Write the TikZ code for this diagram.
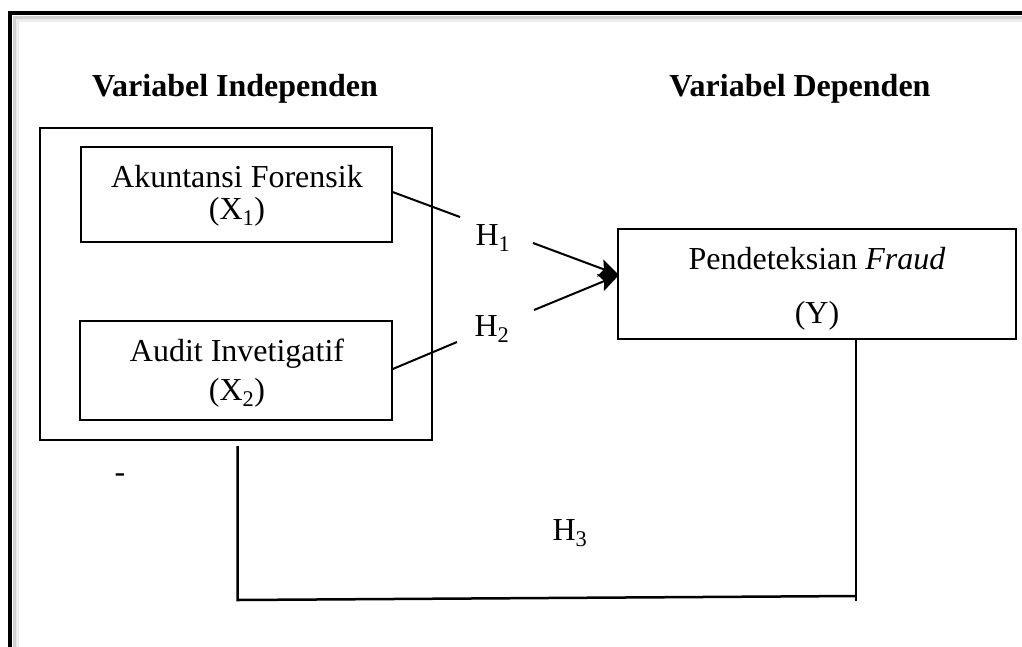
\documentclass[tikz,border=0pt]{standalone}
\usepackage{fontspec}
\setmainfont{Liberation Serif}
\usetikzlibrary{arrows.meta}
\begin{document}
\begin{tikzpicture}[x=1pt,y=-1pt,
  txt/.style={anchor=base,inner sep=0pt,font=\fontsize{32}{38}\selectfont},
  head/.style={txt,font=\fontsize{32}{38}\selectfont\bfseries},
  boxthin/.style={draw,line width=1.2pt,inner sep=0pt},
  conn/.style={line width=2pt},
  arr/.style={conn,-{Stealth[length=20pt,width=18pt,inset=4pt]}}]
\useasboundingbox (0,0) rectangle (1022,646);
% outer frame with shadow
\draw[line width=5pt,gray!15] (16,650) -- (16,19) -- (1030,19);
\draw[line width=3pt,gray!35] (14,650) -- (14,17) -- (1030,17);
\draw[line width=4.5pt] (10,650) -- (10,13) -- (1030,13);
% headings
\node[head] (hi) at (235,96) {Variabel Independen};
\node[head] (hd) at (800,96) {Variabel Dependen};
% group box
\node[draw,line width=2pt,minimum width=392pt,minimum height=312pt,inner sep=0pt] (grp) at (236,284) {};
% X1
\node[boxthin,minimum width=311pt,minimum height=95pt] (x1) at (236.5,194.5) {};
\node[txt] (x1a) at (237,187) {Akuntansi Forensik};
\node[txt] (x1b) at (237,219) {(X\textsubscript{1})};
% X2
\node[boxthin,line width=1.6pt,minimum width=312pt,minimum height=99pt] (x2) at (236,370.5) {};
\node[txt] (x2a) at (237,361) {Audit Invetigatif};
\node[txt] (x2b) at (237,400) {(X\textsubscript{2})};
% Y
\node[boxthin,line width=1.6pt,minimum width=398pt,minimum height=110pt] (y) at (817,284) {};
\node[txt] (ya) at (817,269) {Pendeteksian \textit{Fraud}};
\node[txt] (yb) at (817,323) {(Y)};
% hypotheses
\node[txt] (h1) at (493,245) {H\textsubscript{1}};
\node[txt] (h2) at (492,336) {H\textsubscript{2}};
\node[txt] (h3) at (570,540) {H\textsubscript{3}};
\node[txt] (dash) at (120,482) {-};
% connectors
\coordinate (p1) at (460,217);
\coordinate (p2) at (457,342);
\coordinate (q1) at (533,243);
\coordinate (q2) at (534,310);
\coordinate (yin) at (619,275);
\draw[conn] (x1.east |- 0,192) -- (p1);
\draw[conn] (x2.east |- 0,369) -- (p2);
\draw[arr] (q1) -- (yin);
\draw[arr] (q2) -- (yin);
\coordinate (b1) at (237.5,446);
\coordinate (b2) at (237.5,600);
\coordinate (b3) at (856,596);
\draw[conn,line width=2.5pt] (b1) -- (b2) -- (b3);
\draw[conn,line width=2.5pt] (y.south -| 856,0) -- (856,601);
\end{tikzpicture}
\end{document}
